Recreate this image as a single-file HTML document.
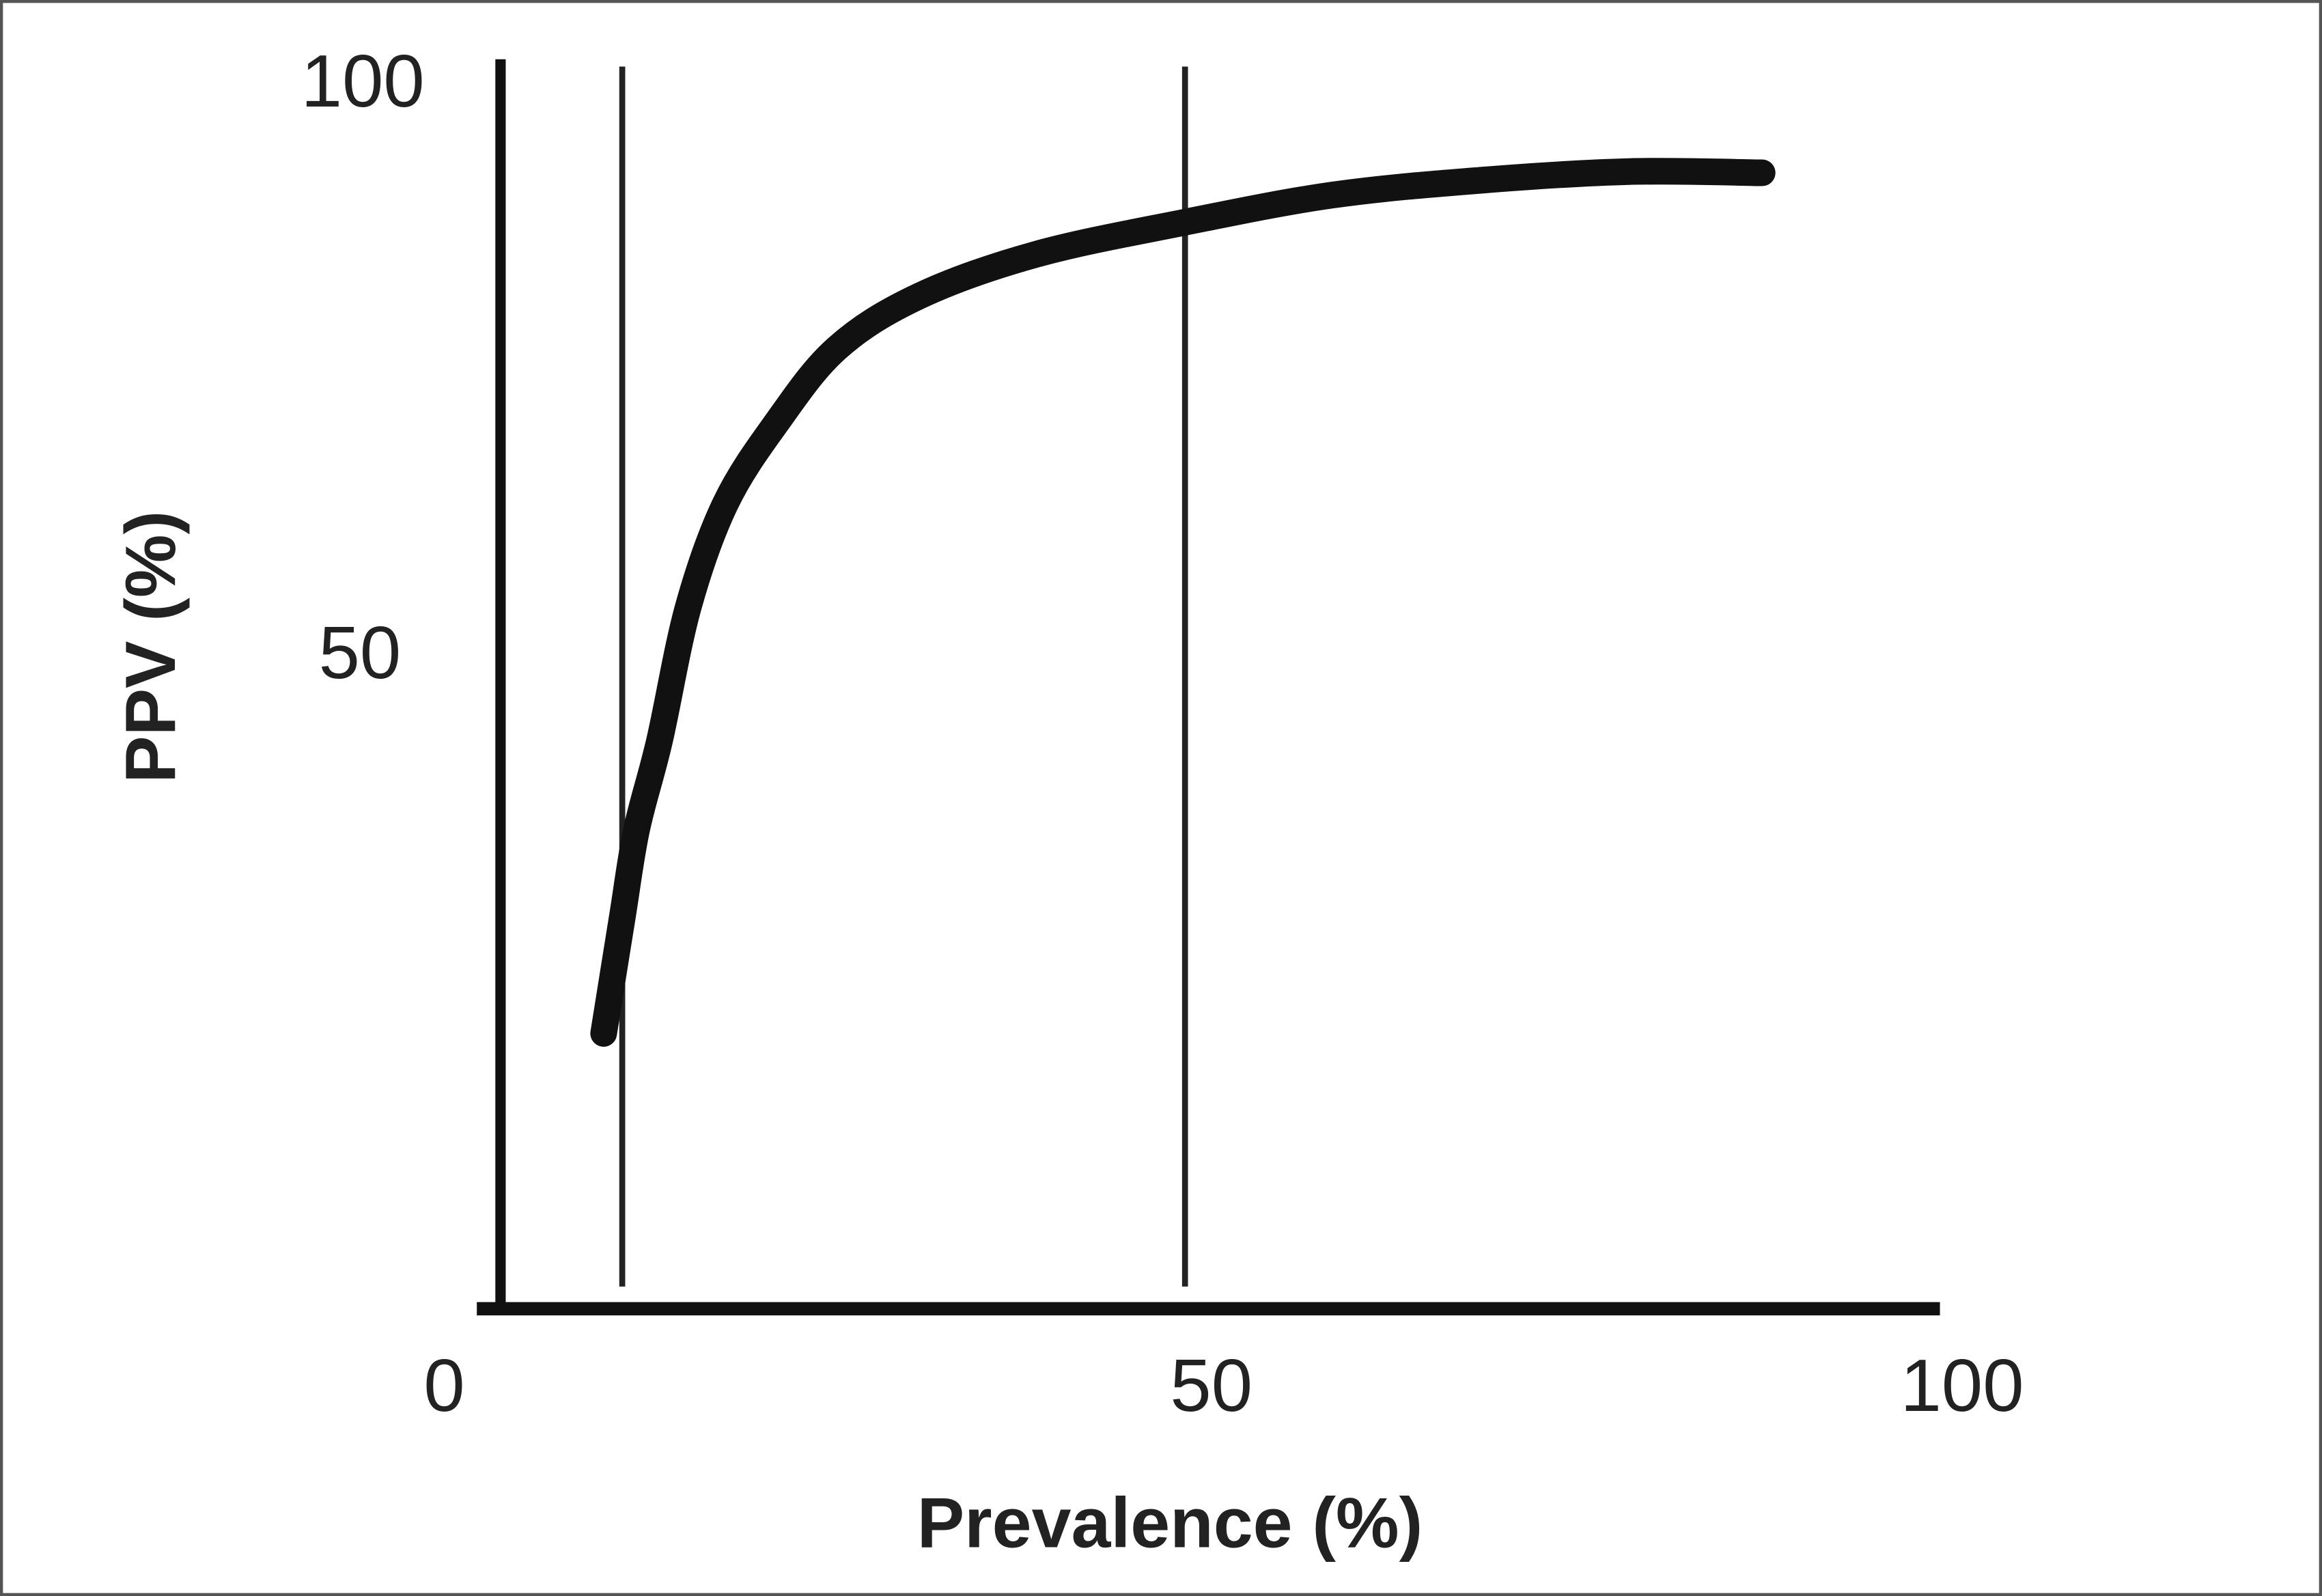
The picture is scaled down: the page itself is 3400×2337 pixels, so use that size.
<!DOCTYPE html>
<html><head><meta charset="utf-8"><style>
html,body{margin:0;padding:0;background:#fff;}
svg{display:block;}
</style></head><body>
<svg width="3400" height="2337" viewBox="0 0 1568 1078" preserveAspectRatio="none" xmlns="http://www.w3.org/2000/svg">
<rect x="1" y="1" width="1566" height="1076" fill="#fff" stroke="#555" stroke-width="2"/>
<g id="plot"></g>
<text x="245" y="72" font-family="Liberation Sans, sans-serif" font-size="50" text-anchor="middle" fill="#222">100</text>
<text x="243" y="458" font-family="Liberation Sans, sans-serif" font-size="50" text-anchor="middle" fill="#222">50</text>
<text x="300" y="953" font-family="Liberation Sans, sans-serif" font-size="50" text-anchor="middle" fill="#222">0</text>
<text x="818" y="953" font-family="Liberation Sans, sans-serif" font-size="50" text-anchor="middle" fill="#222">50</text>
<text x="1325" y="953" font-family="Liberation Sans, sans-serif" font-size="50" text-anchor="middle" fill="#222">100</text>
<text transform="translate(118,437) rotate(-90)" font-family="Liberation Sans, sans-serif" font-size="48" font-weight="bold" text-anchor="middle" fill="#222">PPV (%)</text>
<text x="790" y="1045" font-family="Liberation Sans, sans-serif" font-size="48" font-weight="bold" text-anchor="middle" fill="#222">Prevalence (%)</text>
</svg>
<script>
const prevalence = [7.2, 8.5, 9.5, 11.1, 13.1, 15.7, 19.3, 23.5, 29.2, 37.4, 47.8, 58.1, 68.5, 78.8, 88.1];
const ppv = [22.3, 31.7, 38.8, 46.0, 56.8, 65.2, 71.8, 77.8, 82.0, 85.4, 88.0, 90.2, 91.4, 92.1, 92.0];
const refLines = [8.5, 47.8];
const NS = 'http://www.w3.org/2000/svg';
const g = document.getElementById('plot');
function xs(v){ return 338 + v / 100 * 967; }
function ys(v){ return 884 - v / 100 * 834; }
function mk(tag, attrs){ const e = document.createElementNS(NS, tag); for (const k in attrs) e.setAttribute(k, attrs[k]); g.appendChild(e); return e; }
refLines.forEach(function(v, i){
  const l = mk('line', {x1: xs(v), x2: xs(v), y1: 45, y2: 869, stroke: '#222', 'stroke-width': 4});
  
  
});
const ya = mk('line', {x1: 338, x2: 338, y1: 40, y2: 886, stroke: '#111', 'stroke-width': 7});


const xa = mk('line', {x1: 322, x2: 1310, y1: 884, y2: 884, stroke: '#111', 'stroke-width': 9});


const pts = prevalence.map(function(p, i){ return [xs(p), ys(ppv[i])]; });
let d = 'M' + pts[0][0] + ' ' + pts[0][1];
for (let i = 0; i < pts.length - 1; i++) {
  const p0 = pts[Math.max(0, i - 1)], p1 = pts[i], p2 = pts[i + 1], p3 = pts[Math.min(pts.length - 1, i + 2)];
  const c1x = p1[0] + (p2[0] - p0[0]) / 6, c1y = p1[1] + (p2[1] - p0[1]) / 6;
  const c2x = p2[0] - (p3[0] - p1[0]) / 6, c2y = p2[1] - (p3[1] - p1[1]) / 6;
  d += ' C' + c1x + ' ' + c1y + ' ' + c2x + ' ' + c2y + ' ' + p2[0] + ' ' + p2[1];
}
const c = mk('path', {d: d, fill: 'none', stroke: '#111', 'stroke-width': 18, 'stroke-linecap': 'round', 'stroke-linejoin': 'round'});


</script>
</body></html>
